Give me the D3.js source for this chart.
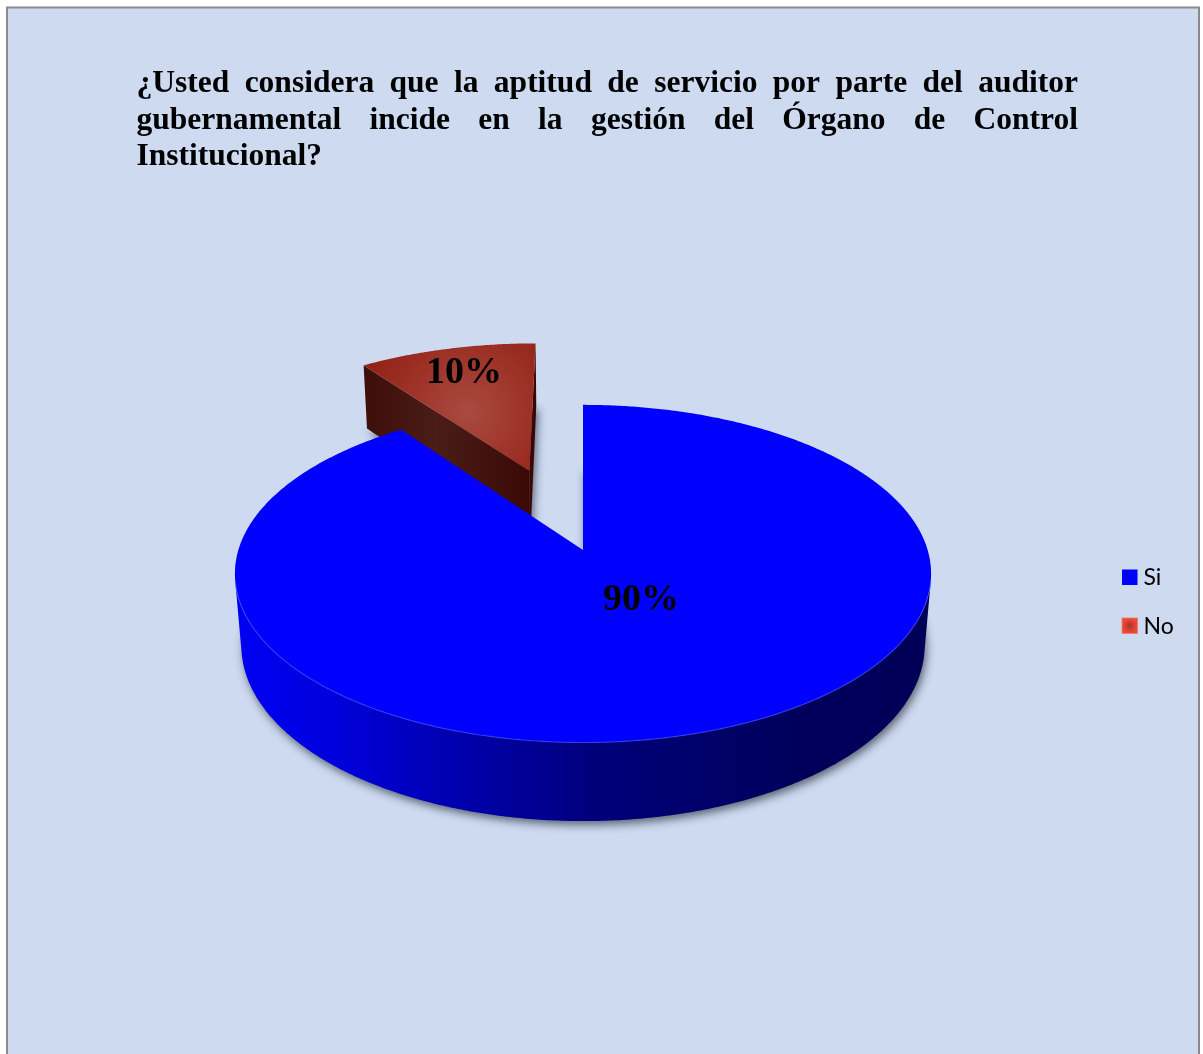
<!DOCTYPE html>
<html>
<head>
<meta charset="utf-8">
<script src="https://cdn.jsdelivr.net/npm/d3@7"></script>
<style>
  body { margin: 0; background: #ffffff; }
  svg { display: block; }
</style>
</head>
<body>
<script>
// ---- data ----
const categories = ["Si", "No"];
const values = [90, 10];
const valueLabels = ["90%", "10%"];
const explodeBy = [0, 0.54];         // outward offset of each slice, in radius units
const titleLines = [
  "¿Usted considera que la aptitud de servicio por parte del auditor",
  "gubernamental incide en la gestión del Órgano de Control",
  "Institucional?"
];

// ---- layout ----
const W = 1203, H = 1054;
const cam = { cx: 583, cy: 550, F: 2154, D: 6.25, tilt: 28.7 * Math.PI / 180, T: 0.24 };
const labelPos = [[641, 597], [464, 370]];
const title = { left: 136.5, right: 1078, y0: 92, lh: 36.5, size: 31.5 };
const legend = { x: 1122, y0: 569.5, dy: 48.5, box: 15.5 };

const svg = d3.select("body").append("svg").attr("width", W).attr("height", H);
const defs = svg.append("defs");

// chart area background and frame
svg.append("rect")
  .attr("x", 7).attr("y", 7.5).attr("width", 1192).attr("height", 1070)
  .attr("fill", "#CDDAF0").attr("stroke", "#8a8a8a").attr("stroke-width", 2);

// ---- gradients / filters ----
const sideBlue = defs.append("linearGradient").attr("id", "sideBlue")
  .attr("gradientUnits", "userSpaceOnUse").attr("x1", 236).attr("x2", 934).attr("y1", 0).attr("y2", 0);
[[0, "#0000F4"], [0.14, "#0000DC"], [0.38, "#00009E"], [0.52, "#00007A"], [0.8, "#00005C"], [1, "#000058"]]
  .forEach(([o, c]) => sideBlue.append("stop").attr("offset", o).attr("stop-color", c));

const topRed = defs.append("radialGradient").attr("id", "topRed")
  .attr("gradientUnits", "userSpaceOnUse").attr("cx", 468).attr("cy", 412).attr("r", 135);
[[0, "#AA4A40"], [0.55, "#9A2D22"], [1, "#8C1A0E"]]
  .forEach(([o, c]) => topRed.append("stop").attr("offset", o).attr("stop-color", c));

const faceRed = defs.append("linearGradient").attr("id", "faceRed")
  .attr("gradientUnits", "userSpaceOnUse").attr("x1", 356).attr("x2", 535).attr("y1", 0).attr("y2", 0);
[[0, "#3D0D08"], [0.45, "#4A1D18"], [1, "#3A0804"]]
  .forEach(([o, c]) => faceRed.append("stop").attr("offset", o).attr("stop-color", c));

const swatchRed = defs.append("radialGradient").attr("id", "swatchRed");
[[0, "#9A3A30"], [0.45, "#CF3E2E"], [1, "#EF4A38"]]
  .forEach(([o, c]) => swatchRed.append("stop").attr("offset", o).attr("stop-color", c));

defs.append("filter").attr("id", "soft").attr("x", "-20%").attr("y", "-20%").attr("width", "140%").attr("height", "140%")
  .append("feGaussianBlur").attr("stdDeviation", 4);

const styles = [
  { top: "#0000FF", side: "url(#sideBlue)", face: "#00007A", faceEnd: "#00008C", rim: "#4A5CFF" },
  { top: "url(#topRed)", side: "#5A1208", face: "url(#faceRed)", faceEnd: "#3A0804", rim: null }
];

// ---- 3D projection of the pie plane ----
const st = Math.sin(cam.tilt), ct = Math.cos(cam.tilt);
function proj(u, v, h) {
  const depth = cam.D + v * ct - h * st;
  return [cam.cx + cam.F * u / depth, cam.cy - cam.F * (v * st + h * ct) / depth];
}

const pie = d3.pie().sort(null).value(d => d);
const arcs = pie(values);
const radius = d3.scaleLinear().domain([0, 1]).range([0, 1]);

const slices = arcs.map((a, i) => {
  const mid = (a.startAngle + a.endAngle) / 2;
  const ou = explodeBy[i] * Math.sin(mid), ov = explodeBy[i] * Math.cos(mid);
  const pt = (phi, r, h) => proj(ou + radius(r) * Math.sin(phi), ov + radius(r) * Math.cos(phi), h);
  const n = Math.max(8, Math.ceil((a.endAngle - a.startAngle) / (Math.PI / 360)));
  const angles = d3.range(n + 1).map(k => a.startAngle + (a.endAngle - a.startAngle) * k / n);
  return { a, i, ou, ov, pt, angles };
});

const line = d3.line();
const poly = pts => line(pts) + "Z";

// soft shadow under each slice's base
const shadowG = svg.append("g").attr("filter", "url(#soft)").attr("transform", "translate(2,4)");
slices.forEach(s => {
  const base = [s.pt(0, 0, -cam.T)].concat(s.angles.map(p => s.pt(p, 1, -cam.T)));
  shadowG.append("path").attr("d", poly(base)).attr("fill", "#37404f").attr("opacity", 0.75);
});

// far slices first
const order = slices.slice().sort((p, q) => (q.ov) - (p.ov));
order.forEach(s => {
  const g = svg.append("g");
  const C = [0, -cam.D * ct, cam.D * st];
  const sty = styles[s.i];

  // radial cut faces
  [[s.a.startAngle, -1], [s.a.endAngle, 1]].forEach(([phi, sgn]) => {
    const nx = sgn * Math.cos(phi), ny = -sgn * Math.sin(phi);
    const vis = (C[0] - s.ou) * nx + (C[1] - s.ov) * ny;
    if (vis > 1e-3) {
      const q = [s.pt(phi, 0, 0), s.pt(phi, 1, 0), s.pt(phi, 1, -cam.T), s.pt(phi, 0, -cam.T)];
      g.append("path").attr("d", poly(q)).attr("fill", sgn < 0 ? sty.face : sty.faceEnd);
    }
  });

  // outer side, only where it faces the viewer
  const visible = s.angles.map(phi =>
    -s.ou * Math.sin(phi) - (cam.D * ct + s.ov) * Math.cos(phi) - 1 > 0);
  let seg = [];
  const rims = [];
  const flush = () => {
    if (seg.length > 1) {
      const topPts = seg.map(p => s.pt(p, 1, 0));
      const botPts = seg.slice().reverse().map(p => s.pt(p, 1, -cam.T));
      g.append("path").attr("d", poly(topPts.concat(botPts))).attr("fill", sty.side);
      rims.push(topPts);
    }
    seg = [];
  };
  s.angles.forEach((phi, k) => { if (visible[k]) seg.push(phi); else flush(); });
  flush();

  // top face
  const top = [s.pt(0, 0, 0)].concat(s.angles.map(p => s.pt(p, 1, 0)));
  g.append("path").attr("d", poly(top)).attr("fill", sty.top);

  // light bevel along the front rim
  if (sty.rim) rims.forEach(r => g.append("path").attr("d", line(r)).attr("fill", "none")
    .attr("stroke", sty.rim).attr("stroke-width", 1.2).attr("opacity", 0.55));
});

// value labels
valueLabels.forEach((t, i) => {
  svg.append("text")
    .attr("x", labelPos[i][0]).attr("y", labelPos[i][1])
    .attr("text-anchor", "middle").attr("dominant-baseline", "central")
    .attr("font-family", "'Liberation Serif', 'Times New Roman', serif")
    .attr("font-weight", "bold").attr("font-size", 38).attr("fill", "#000")
    .text(t);
});

// title, justified like a paragraph
titleLines.forEach((ln, i) => {
  const y = title.y0 + i * title.lh;
  const words = ln.split(" ");
  const g = svg.append("g")
    .attr("font-family", "'Liberation Serif', 'Times New Roman', serif")
    .attr("font-weight", "bold").attr("font-size", title.size).attr("fill", "#000");
  const nodes = words.map(w => g.append("text").attr("y", y).text(w));
  const widths = nodes.map(nd => nd.node().getComputedTextLength());
  const total = d3.sum(widths);
  const justify = i < titleLines.length - 1 && words.length > 1;
  const gap = justify ? (title.right - title.left - total) / (words.length - 1) : title.size * 0.25;
  let x = title.left;
  nodes.forEach((nd, k) => { nd.attr("x", x); x += widths[k] + gap; });
});

// legend
const legendFills = ["#0000FF", "url(#swatchRed)"];
categories.forEach((c, i) => {
  const y = legend.y0 + i * legend.dy;
  svg.append("rect").attr("x", legend.x).attr("y", y).attr("width", legend.box).attr("height", legend.box)
    .attr("fill", legendFills[i])
    .attr("stroke", i === 1 ? "#F07A6C" : "none").attr("stroke-width", i === 1 ? 0.8 : 0);
  svg.append("text").attr("x", legend.x + legend.box + 6).attr("y", y + legend.box)
    .attr("font-family", "Lato, 'Open Sans', sans-serif").attr("font-size", 23).attr("fill", "#000")
    .text(c);
});
</script>
</body>
</html>
